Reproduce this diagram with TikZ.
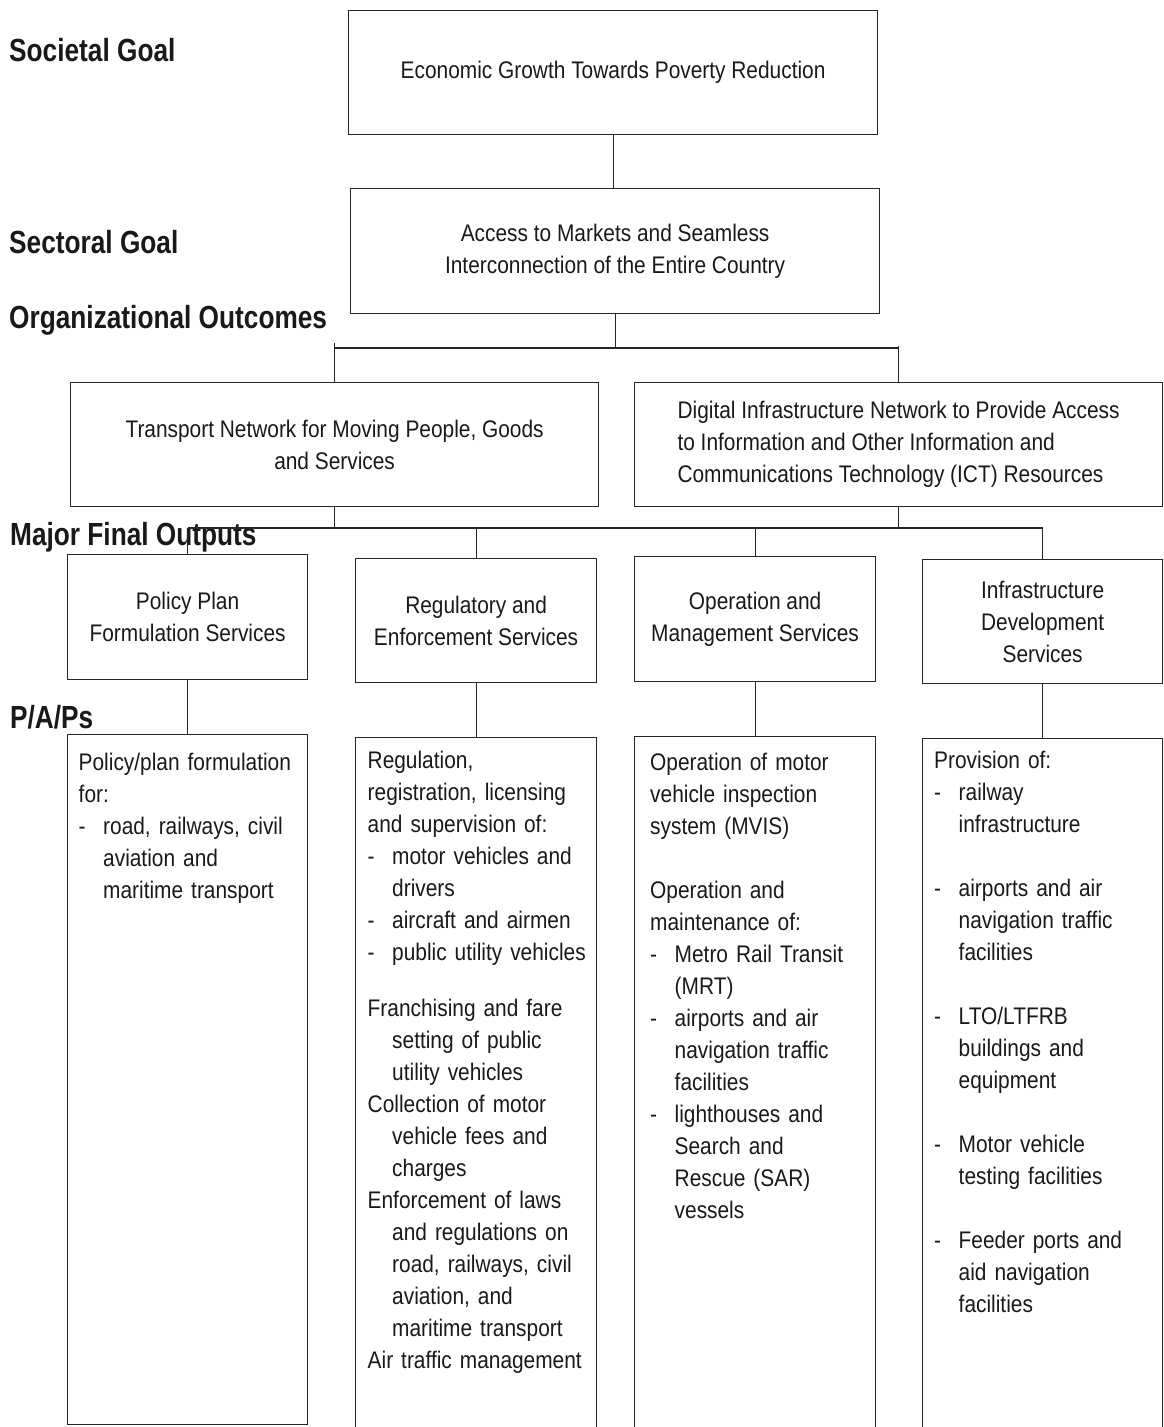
\documentclass[tikz,border=0pt]{standalone}
\usepackage{fontspec}
\setmainfont[FakeStretch=0.87]{Liberation Sans}
\newfontfamily\lblfont[FakeStretch=0.82]{Liberation Sans}
\newcommand\bodytext{\fontsize{24}{32}\selectfont}
\newcommand\lbltext{\lblfont\bfseries\fontsize{32}{36}\selectfont}
\newcommand\pdash{\makebox[24.5pt][l]{-}}
\newcommand\pind{\hspace*{24.5pt}}
\tikzset{
  box/.style={draw=black!85, line width=1.2pt, anchor=north west, inner sep=0pt,
    align=center, font=\bodytext, text=black!90},
  paptext/.style={anchor=base west, inner sep=0pt, text width=228pt, align=left,
    font=\bodytext, text=black!90},
  lbl/.style={anchor=base west, inner sep=0pt, font=\lbltext, text=black!90},
  link/.style={draw=black!85, line width=1.2pt}
}

\begin{document}
\begin{tikzpicture}[x=1pt,y=-1pt]
      \useasboundingbox (0,0) rectangle (1163,1427);
      \clip (0,0) rectangle (1163,1427);
      \node[lbl] (lsoc) at (9,61) {Societal Goal};
      \node[lbl] (lsec) at (9,253) {Sectoral Goal};
      \node[lbl] (lorg) at (9,328) {Organizational Outcomes};
      \node[lbl] (lmfo) at (10,545) {Major Final Outputs};
      \node[lbl] (lpap) at (10,728) {P/A/Ps};

      \node[box, minimum width=529pt, minimum height=124pt] (g1) at (348,10)
        {Economic Growth Towards Poverty Reduction};
      \node[box, minimum width=529pt, minimum height=125pt] (g2) at (350,188)
        {Access to Markets and Seamless\\Interconnection of the Entire Country};
      \node[box, minimum width=528pt, minimum height=124pt] (oo1) at (70,382)
        {Transport Network for Moving People, Goods\\and Services};
      \node[box, align=left, minimum width=528pt, minimum height=124pt] (oo2) at (634,382)
        {Digital Infrastructure Network to Provide Access\\to Information and Other Information and\\Communications Technology (ICT) Resources};

      \node[box, minimum width=240pt, minimum height=125pt] (mfo1) at (67,554)
        {Policy Plan\\Formulation Services};
      \node[box, minimum width=241pt, minimum height=124pt] (mfo2) at (355,558)
        {Regulatory and\\Enforcement Services};
      \node[box, minimum width=241pt, minimum height=125pt] (mfo3) at (634,556)
        {Operation and\\Management Services};
      \node[box, minimum width=240pt, minimum height=124pt] (mfo4) at (922,559)
        {Infrastructure\\Development\\Services};

      \node[box, minimum width=240pt, minimum height=690pt] (pap1) at (67,734) {};
      \node[box, minimum width=241pt, minimum height=703pt] (pap2) at (355,737) {};
      \node[box, minimum width=241pt, minimum height=704pt] (pap3) at (634,736) {};
      \node[box, minimum width=240pt, minimum height=702pt] (pap4) at (922,738) {};

      \node[paptext] (t1) at (78.5,770) {Policy/plan formulation\\for:\\
        \pdash road, railways, civil\\\pind aviation and\\\pind maritime transport};
      \node[paptext] (t2) at (367.5,768) {Regulation,\\registration, licensing\\
        and supervision of:\\\pdash motor vehicles and\\\pind drivers\\
        \pdash aircraft and airmen\\\pdash public utility vehicles\\[24pt]
        Franchising and fare\\\pind setting of public\\\pind utility vehicles\\
        Collection of motor\\\pind vehicle fees and\\\pind charges\\
        Enforcement of laws\\\pind and regulations on\\\pind road, railways, civil\\
        \pind aviation, and\\\pind maritime transport\\Air traffic management};
      \node[paptext] (t3) at (650,770) {Operation of motor\\vehicle inspection\\
        system (MVIS)\\[32pt]Operation and\\maintenance of:\\
        \pdash Metro Rail Transit\\\pind (MRT)\\\pdash airports and air\\
        \pind navigation traffic\\\pind facilities\\\pdash lighthouses and\\
        \pind Search and\\\pind Rescue (SAR)\\\pind vessels};
      \node[paptext] (t4) at (934,768) {Provision of:\\\pdash railway\\
        \pind infrastructure\\[32pt]\pdash airports and air\\\pind navigation traffic\\
        \pind facilities\\[32pt]\pdash LTO/LTFRB\\\pind buildings and\\\pind equipment\\[32pt]
        \pdash Motor vehicle\\\pind testing facilities\\[32pt]\pdash Feeder ports and\\
        \pind aid navigation\\\pind facilities};

      \coordinate (busA) at (0,348);
      \coordinate (busB) at (0,528);
      \draw[link] (g1.south) -- (g1.south |- g2.north);
      \draw[link] (g2.south) -- (g2.south |- busA);
      \draw[link] (oo1.north |- busA) -- (oo2.north |- busA);
      \draw[link] (oo1.north) -- ++(0,-39);
      \draw[link] (oo2.north) -- ++(0,-36);
      \draw[link] (oo1.south) -- (oo1.south |- busB);
      \draw[link] (oo2.south) -- (oo2.south |- busB);
      \draw[link] (mfo1.north |- busB) -- (mfo4.north |- busB);
      \foreach \b in {1,...,4} {
        \draw[link] (mfo\b.north) -- (mfo\b.north |- busB);
        \draw[link] (mfo\b.south) -- (pap\b.north);
      }
\end{tikzpicture}
\end{document}
